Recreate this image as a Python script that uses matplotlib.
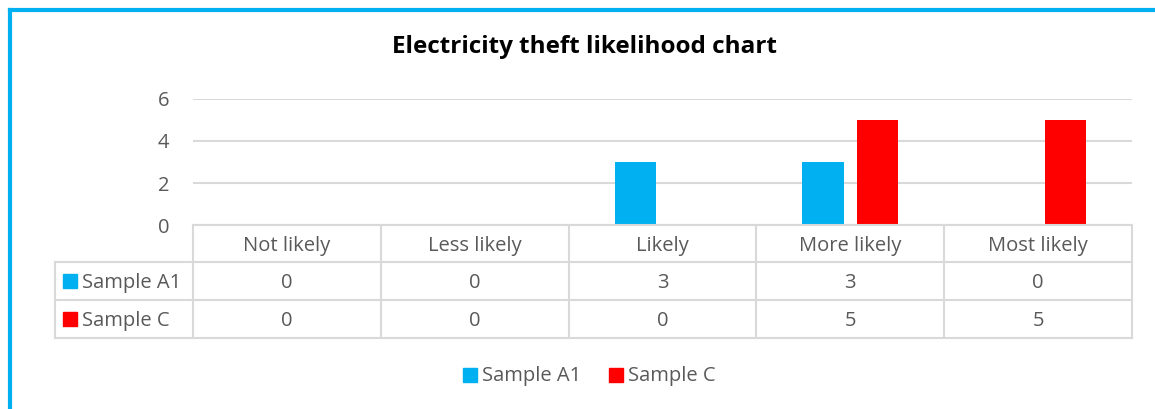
import matplotlib.pyplot as plt
from matplotlib.lines import Line2D
from matplotlib.patches import Rectangle

categories = ['Not likely', 'Less likely', 'Likely', 'More likely', 'Most likely']
series_names = ['Sample A1', 'Sample C']
sample_a1 = [0, 0, 3, 3, 0]
sample_c = [0, 0, 0, 5, 5]
colors = ['#00B0F0', '#FF0000']
yticks = [0, 2, 4, 6]

W, H = 1155, 409
plt.rcParams['font.family'] = ['Open Sans', 'DejaVu Sans']
txt = '#595959'
grid = '#D9D9D9'
fs = 14.5

fig = plt.figure(figsize=(W / 100, H / 100), dpi=100)


def fx(x):
    return x / W


def fy(y):
    return 1 - y / H


# plot area in pixels
x0, x1 = 193, 1132
ytop, ybot = 99, 225
ax = fig.add_axes([fx(x0), fy(ybot), fx(x1) - fx(x0), fy(ytop) - fy(ybot)])
n = len(categories)
xs = range(n)
bw = 0.22
ax.bar([i - 0.145 for i in xs], sample_a1, bw, color=colors[0], zorder=3)
ax.bar([i + 0.145 for i in xs], sample_c, bw, color=colors[1], zorder=3)
ax.set_xlim(-0.5, n - 0.5)
ax.set_ylim(0, 6)
ax.set_yticks(yticks)
ax.yaxis.grid(True, color=grid, linewidth=1.5)
ax.set_axisbelow(True)
for s in ax.spines.values():
    s.set_visible(False)
ax.set_xticks([])
ax.tick_params(axis='y', length=0, labelsize=fs, labelcolor=txt, pad=17)

fig.text(fx(585), fy(47), 'Electricity theft likelihood chart', ha='center',
         va='center', fontsize=17.5, fontweight='bold', color='black')

# data table
rows = [ybot, 262, 300, 338]
colw = (x1 - x0) / n
cols = [x0 + i * colw for i in range(n + 1)]
lx = 55
lw = dict(color=grid, linewidth=1.5)
fig.add_artist(Line2D([fx(x0), fx(x1)], [fy(rows[0])] * 2, **lw))
for r in rows[1:]:
    fig.add_artist(Line2D([fx(lx), fx(x1)], [fy(r)] * 2, **lw))
for c in cols:
    fig.add_artist(Line2D([fx(c)] * 2, [fy(rows[0]), fy(rows[-1])], **lw))
fig.add_artist(Line2D([fx(lx)] * 2, [fy(rows[1]), fy(rows[-1])], **lw))

for i, cat in enumerate(categories):
    cx = cols[i] + colw / 2
    fig.text(fx(cx), fy((rows[0] + rows[1]) / 2 + 3), cat, ha='center', va='center',
             fontsize=fs, color=txt)
    for j, vals in enumerate([sample_a1, sample_c]):
        fig.text(fx(cx), fy((rows[j + 1] + rows[j + 2]) / 2 + 2), str(vals[i]),
                 ha='center', va='center', fontsize=fs, color=txt)

for j, name in enumerate(series_names):
    yc = (rows[j + 1] + rows[j + 2]) / 2
    fig.add_artist(Rectangle((fx(63), fy(yc + 7)), fx(14), 14 / H,
                             color=colors[j], transform=fig.transFigure))
    fig.text(fx(82), fy(yc + 2), name, ha='left', va='center', fontsize=fs, color=txt)

# legend
leg_x = [463, 609]
for j, name in enumerate(series_names):
    fig.add_artist(Rectangle((fx(leg_x[j]), fy(375 + 7)), fx(14), 14 / H,
                             color=colors[j], transform=fig.transFigure))
    fig.text(fx(leg_x[j] + 19), fy(376), name, ha='left', va='center',
             fontsize=fs, color=txt)

# chart border (left and top visible)
bd = dict(color='#00B0F0', linewidth=3)
fig.add_artist(Line2D([fx(10), fx(W)], [fy(10)] * 2, **bd))
fig.add_artist(Line2D([fx(10)] * 2, [fy(10), 0], **bd))

fig.savefig('out.png', dpi=100)
